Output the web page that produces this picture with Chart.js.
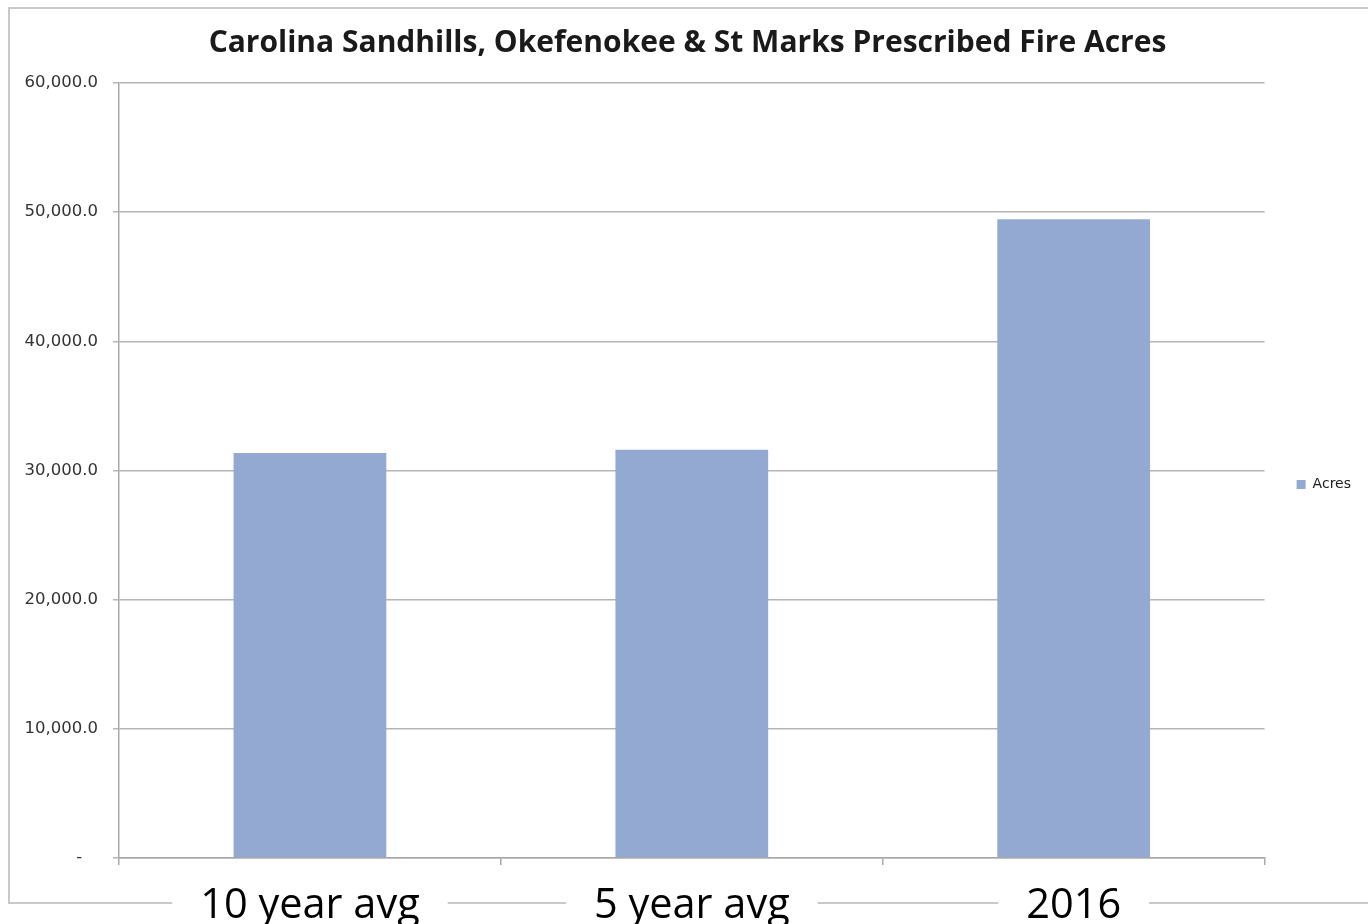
<!DOCTYPE html>
<html>
<head>
<meta charset="utf-8">
<script src="https://cdn.jsdelivr.net/npm/chart.js@4.4.1/dist/chart.umd.min.js"></script>
<style>
  html, body { margin: 0; padding: 0; background: #ffffff; }
  #wrap { width: 1368px; height: 924px; position: relative; }
</style>
</head>
<body>
<div id="wrap"><canvas id="c" width="1368" height="924"></canvas></div>
<script>
const categories = ["10 year avg", "5 year avg", "2016"];
const acres = [31350, 31600, 49450];
const seriesLabel = "Acres";
const titleText = "Carolina Sandhills, Okefenokee & St Marks Prescribed Fire Acres";
const yTicks = [0, 10000, 20000, 30000, 40000, 50000, 60000];

const outerBorder = {
  id: 'outerBorder',
  beforeDraw(chart) {
    const ctx = chart.ctx;
    ctx.save();
    ctx.strokeStyle = '#c9c9c9';
    ctx.lineWidth = 2;
    ctx.strokeRect(9, 8, 1400, 895);
    ctx.restore();
  }
};

function fmt(v) {
  if (v === 0) return '-   ';
  return v.toLocaleString('en-US', { minimumFractionDigits: 1, maximumFractionDigits: 1 });
}

new Chart(document.getElementById('c'), {
  type: 'bar',
  data: {
    labels: categories,
    datasets: [{
      label: seriesLabel,
      data: acres,
      backgroundColor: '#94a9d1',
      borderWidth: 0,
      categoryPercentage: 1.0,
      barPercentage: 0.4
    }]
  },
  options: {
    responsive: false,
    animation: false,
    devicePixelRatio: 1,
    layout: { padding: { left: 14, right: 7, top: 0, bottom: 0 } },
    plugins: {
      title: {
        display: true,
        text: titleText,
        color: '#1a1a1a',
        font: { family: 'Open Sans', size: 30, weight: 'bold', lineHeight: 1.2 },
        padding: { top: 25, bottom: 22 }
      },
      legend: {
        display: true,
        position: 'right',
        align: 'center',
        title: {
          display: true,
          text: ' ',
          font: { size: 10, lineHeight: 1.2 },
          padding: { top: 17, bottom: 16 }
        },
        labels: {
          boxWidth: 9,
          boxHeight: 9,
          padding: 32,
          color: '#222222',
          font: { family: 'DejaVu Sans', size: 14 }
        }
      },
      tooltip: { enabled: false }
    },
    scales: {
      x: {
        afterFit(scale) { scale.height = 66; },
        grid: {
          display: true,
          offset: true,
          drawOnChartArea: false,
          drawTicks: true,
          tickLength: 7,
          color: '#a8a8a8',
          lineWidth: 1.5
        },
        border: { display: true, color: '#a8a8a8', width: 1.5 },
        ticks: {
          color: '#000000',
          padding: 16,
          font: { family: 'Open Sans', size: 41.5, lineHeight: 1.2 },
          showLabelBackdrop: true,
          backdropColor: '#ffffff',
          backdropPadding: { left: 28, right: 28, top: 0, bottom: 0 }
        }
      },
      y: {
        min: 0,
        max: 60000,
        afterBuildTicks(scale) { scale.ticks = yTicks.map(v => ({ value: v })); },
        afterFit(scale) { scale.width = 105; },
        grid: {
          color: '#b5b5b5',
          lineWidth: 1.5,
          tickLength: 6
        },
        border: { display: true, color: '#a8a8a8', width: 1.5 },
        ticks: {
          color: '#333333',
          padding: 15,
          font: { family: 'DejaVu Sans', size: 16.5 },
          callback: (v) => fmt(v)
        }
      }
    }
  },
  plugins: [outerBorder]
});
</script>
</body>
</html>
